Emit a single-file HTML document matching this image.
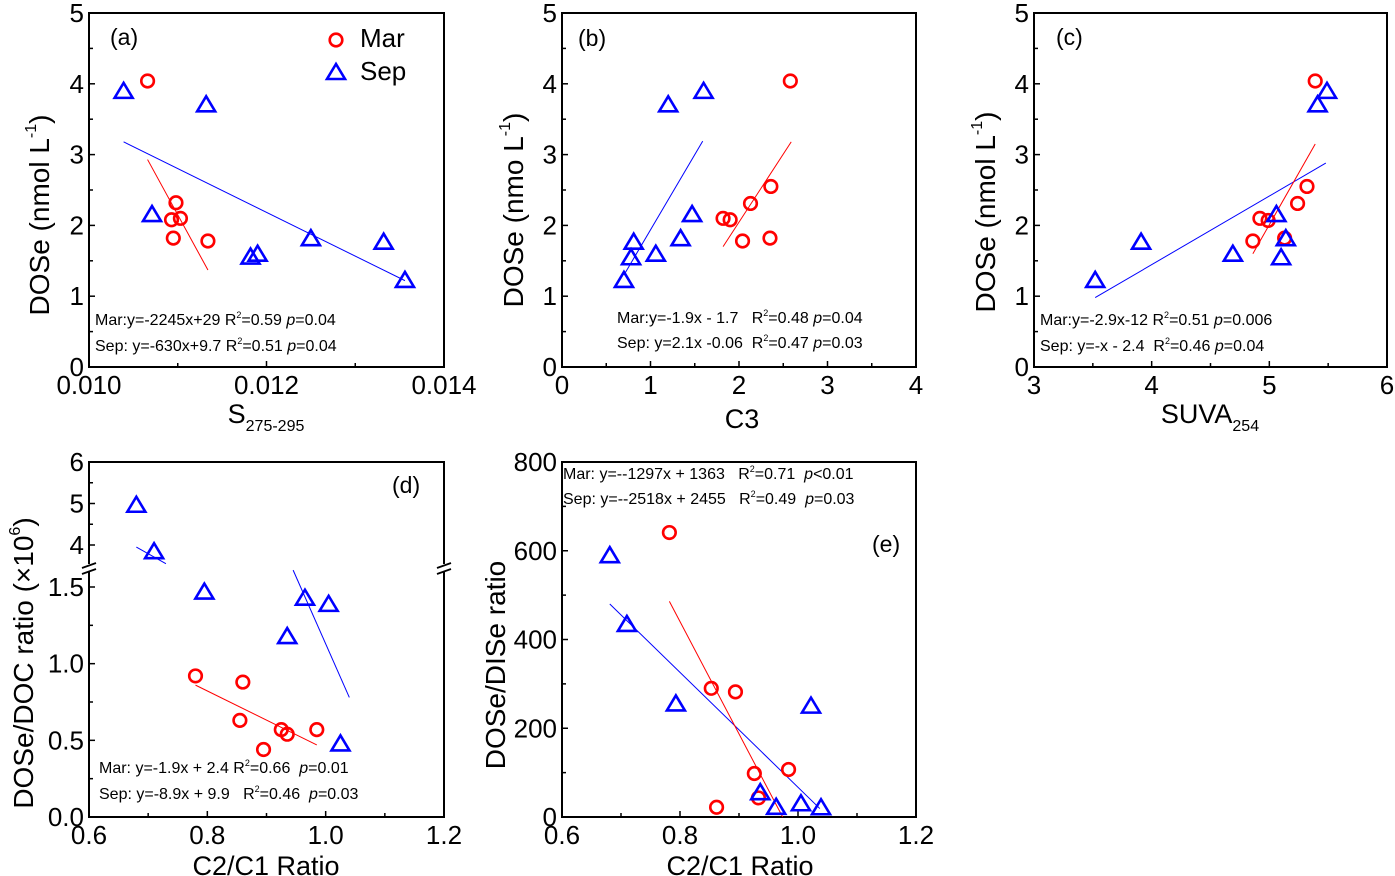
<!DOCTYPE html>
<html><head><meta charset="utf-8">
<style>
html,body{margin:0;padding:0;background:#fff;}
svg{display:block;font-family:"Liberation Sans",Arial,sans-serif;}
</style></head>
<body>
<svg id="fig" width="1395" height="876" viewBox="0 0 1395 876" xmlns="http://www.w3.org/2000/svg"></svg>
<script>
// ---------- data ----------
// panel a
const aMarX=[0.01066,0.01098,0.01093,0.01103,0.01095,0.01134];
const aMarY=[4.04,2.32,2.08,2.10,1.82,1.78];
const aSepX=[0.01039,0.01132,0.01071,0.01182,0.01190,0.01250,0.01332,0.01356];
const aSepY=[3.90,3.71,2.16,1.56,1.60,1.82,1.77,1.23];
const aMarFit=[[0.01066,2.93],[0.01134,1.37]];
const aSepFit=[[0.01039,3.18],[0.01356,1.22]];
// panel b
const bMarX=[2.58,2.36,2.13,1.82,1.90,2.04,2.35];
const bMarY=[4.04,2.55,2.31,2.10,2.08,1.78,1.82];
const bSepX=[1.60,1.20,1.47,1.34,1.06,0.81,0.78,0.70];
const bSepY=[3.90,3.71,2.16,1.82,1.60,1.77,1.55,1.23];
const bMarFit=[[1.82,1.70],[2.59,3.18]];
const bSepFit=[[0.70,1.30],[1.59,3.19]];
// panel c
const cMarX=[5.39,5.32,5.24,4.92,4.99,4.86,5.13];
const cMarY=[4.04,2.55,2.31,2.10,2.07,1.78,1.82];
const cSepX=[5.49,5.41,5.06,5.14,5.10,4.69,3.91,3.52];
const cSepY=[3.90,3.71,2.16,1.82,1.55,1.60,1.77,1.23];
const cMarFit=[[4.86,1.60],[5.39,3.15]];
const cSepFit=[[3.52,0.98],[5.48,2.88]];
// panel d
const dMarX=[0.78,0.86,0.855,0.895,0.925,0.935,0.985];
const dMarY=[0.92,0.88,0.63,0.44,0.57,0.54,0.57];
const dSepX=[0.68,0.71,0.795,0.935,0.965,1.005,1.025];
const dSepY=[4.97,3.85,1.47,1.18,1.43,1.39,0.48];
const dMarFit=[[0.78,0.86],[0.985,0.47]];
const dSepFitUpper=[[0.68,3.95],[0.73,3.55]];
const dSepFitLower=[[0.945,1.61],[1.04,0.78]];
// panel e
const eMarX=[0.782,0.853,0.894,0.926,0.984,0.933,0.862];
const eMarY=[641,290,282,98,107,43,22];
const eSepX=[0.681,0.710,0.793,1.022,0.936,0.963,1.005,1.039];
const eSepY=[590,435,256,251,56,23,31,22];
const eMarFit=[[0.782,486],[0.974,0]];
const eSepFit=[[0.681,480],[1.037,19]];
// tick labels
const aXTicks=[0.010,0.012,0.014]; const aXLabels=["0.010","0.012","0.014"];
const yTicks05=[0,1,2,3,4,5];
const bXTicks=[0,1,2,3,4];
const cXTicks=[3,4,5,6];
const dXTicks=[0.6,0.8,1.0,1.2]; const dXLabels=["0.6","0.8","1.0","1.2"];
const dYLow=[0,0.5,1.0,1.5]; const dYLowLabels=["0.0","0.5","1.0","1.5"];
const dYUp=[4,5,6];
const eYTicks=[0,200,400,600,800];

const NS="http://www.w3.org/2000/svg";
const svg=document.getElementById('fig');
function el(tag,attrs,parent){const e=document.createElementNS(NS,tag);for(const k in attrs)e.setAttribute(k,attrs[k]);(parent||svg).appendChild(e);return e;}
function linScale(d0,d1,r0,r1){return v=>r0+(v-d0)*(r1-r0)/(d1-d0);}

function circleMarks(g,X,Y,sx,sy,name){
  for(let i=0;i<X.length;i++){
    const c=el('circle',{cx:sx(X[i]),cy:sy(Y[i]),r:6.3,fill:'none',stroke:'#ff0000','stroke-width':2.6},g);
    
    
  }
}
function triMarks(g,X,Y,sx,sy,name){
  for(let i=0;i<X.length;i++){
    const x=sx(X[i]),y=sy(Y[i]);
    const p=el('polygon',{points:`${x},${y-8} ${x-9},${y+7} ${x+9},${y+7}`,fill:'none',stroke:'#0000ff','stroke-width':2.6,'stroke-linejoin':'miter'},g);
    
    
  }
}
function fitLine(g,pts,sx,sy,color,name){
  const l=el('line',{x1:sx(pts[0][0]),y1:sy(pts[0][1]),x2:sx(pts[1][0]),y2:sy(pts[1][1]),stroke:color,'stroke-width':1},g);
  
  
}
function frame(g,L,R,T,B){
  const r=el('rect',{x:L,y:T,width:R-L,height:B-T,fill:'none',stroke:'#000','stroke-width':2},g);
  
  
}
const TF=26;
function xTicks(g,vals,labels,sx,B,minors){
  vals.forEach((v,i)=>{
    el('line',{x1:sx(v),y1:B,x2:sx(v),y2:B-6,stroke:'#000','stroke-width':1.5},g);
    const t=el('text',{x:sx(v),y:B+27,'font-size':TF,'text-anchor':'middle'},g);
    t.textContent=labels[i];
    
    
  });
  minors.forEach(v=>el('line',{x1:sx(v),y1:B,x2:sx(v),y2:B-4,stroke:'#000','stroke-width':1.5},g));
}
function yTicks(g,vals,labels,sy,L,minors){
  vals.forEach((v,i)=>{
    el('line',{x1:L,y1:sy(v),x2:L+6,y2:sy(v),stroke:'#000','stroke-width':1.5},g);
    const t=el('text',{x:L-5,y:sy(v)+9,'font-size':TF,'text-anchor':'end'},g);
    t.textContent=labels[i];
    
    
  });
  minors.forEach(v=>el('line',{x1:L,y1:sy(v),x2:L+4,y2:sy(v),stroke:'#000','stroke-width':1.5},g));
}
function txt(g,x,y,size,html,name,anchor,rot){
  const t=el('text',{x:x,y:y,'font-size':size,'text-anchor':anchor||'start'},g);
  if(rot) t.setAttribute('transform',`rotate(-90 ${x} ${y})`);
  t.innerHTML=html;
  
  
  return t;
}
const R2='R<tspan font-size="9" dy="-7">2</tspan><tspan dy="7">';
function ann(g,x,y,pre,post,p){
  return txt(g,x,y,16,`${pre}${R2}${post} <tspan font-style="italic">p</tspan>${p}</tspan>`,'regression-annotation');
}
function panelG(name){const g=el('g',{});return g;}
const half=a=>{const r=[];for(let i=0;i<a.length-1;i++)r.push((a[i]+a[i+1])/2);return r;};
const YT=28;
const sup1='<tspan font-size="16" dy="-13">-1</tspan><tspan dy="13">)</tspan>';

// ---------- panel a ----------
(function(){
  const g=panelG('panel-a');const L=89,R=444,T=13,B=367;
  const sx=linScale(0.010,0.014,L,R), sy=linScale(0,5,B,T);
  frame(g,L,R,T,B);
  xTicks(g,aXTicks,aXLabels,sx,B,[0.011,0.013]);
  yTicks(g,yTicks05,yTicks05.map(String),sy,L,half(yTicks05));
  fitLine(g,aSepFit,sx,sy,'#0000ff','sep-fit-line');
  fitLine(g,aMarFit,sx,sy,'#ff0000','mar-fit-line');
  circleMarks(g,aMarX,aMarY,sx,sy,'mar');
  triMarks(g,aSepX,aSepY,sx,sy,'sep');
  txt(g,110,45,23,'(a)','panel-label');
  const lc=el('circle',{cx:336,cy:40,r:6.3,fill:'none',stroke:'#ff0000','stroke-width':2.6},g);
  
  const lt=el('polygon',{points:'336,64 327,79 345,79',fill:'none',stroke:'#0000ff','stroke-width':2.6},g);
  
  txt(g,360,47,26,'Mar','legend-mar-label');
  txt(g,360,80,26,'Sep','legend-sep-label');
  ann(g,95,325,'Mar:y=-2245x+29 ','=0.59','=0.04');
  ann(g,95,351,'Sep: y=-630x+9.7 ','=0.51','=0.04');
  txt(g,49,215,YT,'DOSe (nmol L'+sup1,'y-axis-title','middle',true);
  txt(g,266,423,27,'S<tspan font-size="16" dy="8">275-295</tspan>','x-axis-title','middle');
})();

// ---------- panel b ----------
(function(){
  const g=panelG('panel-b');const L=562,R=916,T=13,B=367;
  const sx=linScale(0,4,L,R), sy=linScale(0,5,B,T);
  frame(g,L,R,T,B);
  xTicks(g,bXTicks,bXTicks.map(String),sx,B,half(bXTicks));
  yTicks(g,yTicks05,yTicks05.map(String),sy,L,half(yTicks05));
  fitLine(g,bSepFit,sx,sy,'#0000ff','sep-fit-line');
  fitLine(g,bMarFit,sx,sy,'#ff0000','mar-fit-line');
  circleMarks(g,bMarX,bMarY,sx,sy,'mar');
  triMarks(g,bSepX,bSepY,sx,sy,'sep');
  txt(g,578,46,23,'(b)','panel-label');
  ann(g,617,323,'Mar:y=-1.9x - 1.7&#160;&#160; ','=0.48','=0.04');
  ann(g,617,348,'Sep: y=2.1x -0.06&#160; ','=0.47','=0.03');
  txt(g,523,210,YT,'DOSe (nmo L'+sup1,'y-axis-title','middle',true);
  txt(g,742,428,27,'C3','x-axis-title','middle');
})();

// ---------- panel c ----------
(function(){
  const g=panelG('panel-c');const L=1034,R=1387,T=13,B=367;
  const sx=linScale(3,6,L,R), sy=linScale(0,5,B,T);
  frame(g,L,R,T,B);
  xTicks(g,cXTicks,cXTicks.map(String),sx,B,half(cXTicks));
  yTicks(g,yTicks05,yTicks05.map(String),sy,L,half(yTicks05));
  fitLine(g,cSepFit,sx,sy,'#0000ff','sep-fit-line');
  fitLine(g,cMarFit,sx,sy,'#ff0000','mar-fit-line');
  circleMarks(g,cMarX,cMarY,sx,sy,'mar');
  triMarks(g,cSepX,cSepY,sx,sy,'sep');
  txt(g,1056,45,23,'(c)','panel-label');
  ann(g,1040,325,'Mar:y=-2.9x-12 ','=0.51','=0.006');
  ann(g,1040,351,'Sep: y=-x - 2.4&#160; ','=0.46','=0.04');
  txt(g,995,212,YT,'DOSe (nmol L'+sup1,'y-axis-title','middle',true);
  txt(g,1210,423,27,'SUVA<tspan font-size="16" dy="8">254</tspan>','x-axis-title','middle');
})();

// ---------- panel d (broken axis) ----------
(function(){
  const g=panelG('panel-d');const L=89,R=444,T=462,B=817;
  const sx=linScale(0.6,1.2,L,R);
  const syLow=linScale(0,1.5,B,587), syUp=linScale(4,6,545,T);
  const sy=v=>v<=2?syLow(v):syUp(v);
  frame(g,L,R,T,B);
  xTicks(g,dXTicks,dXLabels,sx,B,[0.7,0.9,1.1]);
  yTicks(g,dYLow,dYLowLabels,syLow,L,[0.25,0.75,1.25]);
  yTicks(g,dYUp,dYUp.map(String),syUp,L,[4.5,5.5]);
  [L,R].forEach(x=>{
    el('rect',{x:x-7,y:564,width:14,height:8,fill:'#fff'},g);
    el('line',{x1:x-7,y1:568,x2:x+7,y2:563,stroke:'#000','stroke-width':1.8},g);
    el('line',{x1:x-7,y1:574,x2:x+7,y2:569,stroke:'#000','stroke-width':1.8},g);
  });
  fitLine(g,dSepFitUpper,sx,syUp,'#0000ff','sep-fit-line-upper');
  fitLine(g,dSepFitLower,sx,syLow,'#0000ff','sep-fit-line-lower');
  fitLine(g,dMarFit,sx,syLow,'#ff0000','mar-fit-line');
  circleMarks(g,dMarX,dMarY,sx,sy,'mar');
  triMarks(g,dSepX,dSepY,sx,sy,'sep');
  txt(g,392,493,23,'(d)','panel-label');
  ann(g,99,773,'Mar: y=-1.9x + 2.4 ','=0.66&#160;','=0.01');
  ann(g,99,799,'Sep: y=-8.9x + 9.9&#160;&#160; ','=0.46&#160;','=0.03');
  txt(g,33,663,YT,'DOSe/DOC ratio (×10<tspan font-size="16" dy="-13">6</tspan><tspan dy="13">)</tspan>','y-axis-title','middle',true);
  txt(g,266,875,27,'C2/C1 Ratio','x-axis-title','middle');
})();

// ---------- panel e ----------
(function(){
  const g=panelG('panel-e');const L=562,R=916,T=462,B=817;
  const sx=linScale(0.6,1.2,L,R), sy=linScale(0,800,B,T);
  frame(g,L,R,T,B);
  xTicks(g,dXTicks,dXLabels,sx,B,[0.7,0.9,1.1]);
  yTicks(g,eYTicks,eYTicks.map(String),sy,L,half(eYTicks));
  fitLine(g,eSepFit,sx,sy,'#0000ff','sep-fit-line');
  fitLine(g,eMarFit,sx,sy,'#ff0000','mar-fit-line');
  circleMarks(g,eMarX,eMarY,sx,sy,'mar');
  triMarks(g,eSepX,eSepY,sx,sy,'sep');
  txt(g,872,552,23,'(e)','panel-label');
  ann(g,563,479,'Mar: y=--1297x + 1363&#160;&#160; ','=0.71&#160;','&lt;0.01');
  ann(g,563,504,'Sep: y=--2518x + 2455&#160;&#160; ','=0.49&#160;','=0.03');
  txt(g,505,665,YT,'DOSe/DISe ratio','y-axis-title','middle',true);
  txt(g,740,875,27,'C2/C1 Ratio','x-axis-title','middle');
})();
</script>
</body></html>
